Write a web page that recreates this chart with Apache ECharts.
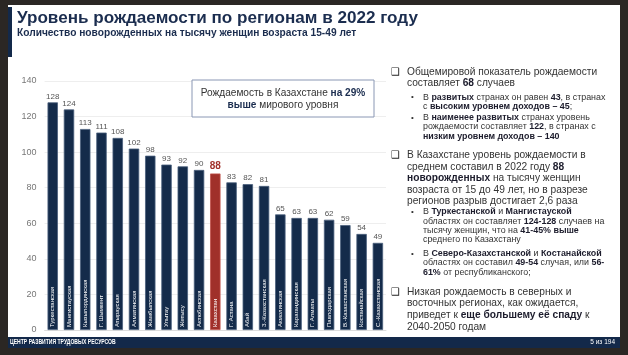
<!DOCTYPE html>
<html><head><meta charset="utf-8">
<script src="https://cdn.jsdelivr.net/npm/echarts@6/dist/echarts.min.js"></script>
<style>html,body{margin:0;padding:0;background:#2b2724;}#c{width:628px;height:355px;}</style>
</head><body><div id="c"></div>
<script>
var categories = ['Туркестанская','Мангистауская','Кызылординская','Г. Шымкент','Атырауская','Алматинская','Жамбылская','Улытау','Жетысу','Актюбинская','Казахстан','Г. Астана','Абай','З.-Казахстанская','Акмолинская','Карагандинская','Г. Алматы','Павлодарская','В.-Казахстанская','Костанайская','С.-Казахстанская'];
var values = [128,124,113,111,108,102,98,93,92,90,88,83,82,81,65,63,63,62,59,54,49];
var highlightName = 'Казахстан';
var yMin = 0, yMax = 140, yStep = 20;

var NAVY = '#142b4a', RED = '#a0302a';
var FONT = '"Liberation Sans", Arial, sans-serif';

var barData = values.map(function(v,i){
  var hl = categories[i] === highlightName;
  return {value:v, itemStyle:{color: hl?RED:NAVY, borderColor: hl?'#c0504a':'#4a5f7c'},
    label:{color: hl?RED:'#555', fontSize: hl?10:8, fontWeight: hl?'bold':'normal'}};
});

function line(x,y,text,size,extra){
  var o = {type:'text', x:x, y:y, z:10, style:{text:text, fontSize:size, fontFamily:FONT, fill:'#333', verticalAlign:'middle', align:'left',
    rich:{b:{fontWeight:'bold', fill:'#1c1c2c', fontSize:size, fontFamily:FONT}}}};
  if(extra){for(var k in extra) o[k]=extra[k];}
  return o;
}
var M = 10.2, S = 8.9;
var mx = 407, sx = 423;
var graphics = [
  {type:'rect', shape:{x:8,y:5,width:612,height:332}, style:{fill:'#fff'}, z:0},
  {type:'rect', shape:{x:8,y:337,width:612,height:11}, style:{fill:'#13294a'}, z:1},
  {type:'rect', shape:{x:8,y:7,width:4,height:50}, style:{fill:'#13294a'}, z:1},
  {type:'text', x:17, y:18, z:10, style:{text:'Уровень рождаемости по регионам в 2022 году', fontSize:17.1, fontWeight:'bold', fontFamily:FONT, fill:'#1b2d4f', verticalAlign:'middle'}},
  {type:'text', x:17, y:33.5, z:10, style:{text:'Количество новорожденных на тысячу женщин возраста 15-49 лет', fontSize:10.2, fontWeight:'bold', fontFamily:FONT, fill:'#1b2d4f', verticalAlign:'middle'}},
  {type:'text', x:10, y:342.5, z:10, scaleX:0.78, style:{text:'ЦЕНТР РАЗВИТИЯ ТРУДОВЫХ РЕСУРСОВ', fontSize:6.5, fontWeight:'bold', fontFamily:FONT, fill:'#fff', verticalAlign:'middle'}},
  {type:'text', x:615, y:342.5, z:10, style:{text:'5 из 194', fontSize:6.5, fontFamily:FONT, fill:'#fff', verticalAlign:'middle', align:'right'}},
  {type:'rect', shape:{x:192,y:80,width:182,height:37}, style:{fill:'#fff', stroke:'#8a97b4', lineWidth:1}, z:5},
  {type:'text', x:283, y:93, z:10, style:{text:'Рождаемость в Казахстане {b|на 29%}', fontSize:10.1, fontFamily:FONT, fill:'#333', align:'center', verticalAlign:'middle', rich:{b:{fontWeight:'bold', fill:'#1b2d4f', fontSize:10.1, fontFamily:FONT}}}},
  {type:'text', x:283, y:105, z:10, style:{text:'{b|выше} мирового уровня', fontSize:10.1, fontFamily:FONT, fill:'#333', align:'center', verticalAlign:'middle', rich:{b:{fontWeight:'bold', fill:'#1b2d4f', fontSize:10.1, fontFamily:FONT}}}},
  // bullet symbols
  {type:'text', x:391, y:72, z:10, style:{text:'❑', fontSize:10, fontFamily:'"DejaVu Sans"', fill:'#222', verticalAlign:'middle'}},
  {type:'text', x:391, y:155, z:10, style:{text:'❑', fontSize:10, fontFamily:'"DejaVu Sans"', fill:'#222', verticalAlign:'middle'}},
  {type:'text', x:391, y:292, z:10, style:{text:'❑', fontSize:10, fontFamily:'"DejaVu Sans"', fill:'#222', verticalAlign:'middle'}},
  line(411,97,'•',8), line(411,118,'•',8), line(411,212,'•',8), line(411,253.5,'•',8),
  line(mx,72,'Общемировой показатель рождаемости',M),
  line(mx,83.5,'составляет {b|68} случаев',M),
  line(sx,97.3,'В {b|развитых} странах он равен {b|43}, в странах',S),
  line(sx,106.7,'с {b|высоким уровнем доходов – 45};',S),
  line(sx,117.7,'В {b|наименее развитых} странах уровень',S),
  line(sx,127,'рождаемости составляет {b|122}, в странах с',S),
  line(sx,136.3,'{b|низким уровнем доходов – 140}',S),
  line(mx,155,'В Казахстане уровень рождаемости в',M),
  line(mx,166.7,'среднем составил в 2022 году {b|88}',M),
  line(mx,178.3,'{b|новорожденных} на тысячу женщин',M),
  line(mx,189.9,'возраста от 15 до 49 лет, но в разрезе',M),
  line(mx,201.5,'регионов разрыв достигает 2,6 раза',M),
  line(sx,212,'В {b|Туркестанской} и {b|Мангистауской}',S),
  line(sx,221.3,'областях он составляет {b|124-128} случаев на',S),
  line(sx,230.6,'тысячу женщин, что на {b|41-45% выше}',S),
  line(sx,239.9,'среднего по Казахстану',S),
  line(sx,253.5,'В {b|Северо-Казахстанской} и {b|Костанайской}',S),
  line(sx,263,'областях он составил {b|49-54} случая, или {b|56-}',S),
  line(sx,272.5,'{b|61%} от республиканского;',S),
  line(mx,292,'Низкая рождаемость в северных и',M),
  line(mx,303.6,'восточных регионах, как ожидается,',M),
  line(mx,315.2,'приведет к {b|еще большему её спаду} к',M),
  line(mx,326.8,'2040-2050 годам',M)
];

var chart = echarts.init(document.getElementById('c'), null, {renderer:'canvas'});
chart.setOption({
  animation:false,
  backgroundColor:'transparent',
  grid:{left:44.6, right:242, top:81, bottom:25, containLabel:false},
  xAxis:{type:'category', data:categories, axisLine:{lineStyle:{color:'#ddd'}}, axisTick:{show:false}, axisLabel:{show:false}},
  yAxis:{type:'value', min:yMin, max:yMax, interval:yStep, axisLine:{show:false}, axisTick:{show:false},
    axisLabel:{color:'#777', fontSize:9, fontFamily:FONT, margin:8}, splitLine:{lineStyle:{color:'#eeeeee'}}},
  series:[
    {type:'bar', data:barData, barCategoryGap:'36%', z:2,
     itemStyle:{borderWidth:0.8},
     label:{show:true, position:'top', distance:2, fontFamily:FONT}},
    {type:'bar', data:values, barGap:'-100%', barCategoryGap:'36%', z:3, silent:true,
     itemStyle:{color:'transparent'},
     label:{show:true, position:'insideBottom', rotate:90, align:'left', verticalAlign:'middle', distance:3,
       formatter:function(p){return p.name;}, color:'#fff', fontSize:6, fontFamily:FONT}}
  ],
  graphic:graphics
});
</script></body></html>
